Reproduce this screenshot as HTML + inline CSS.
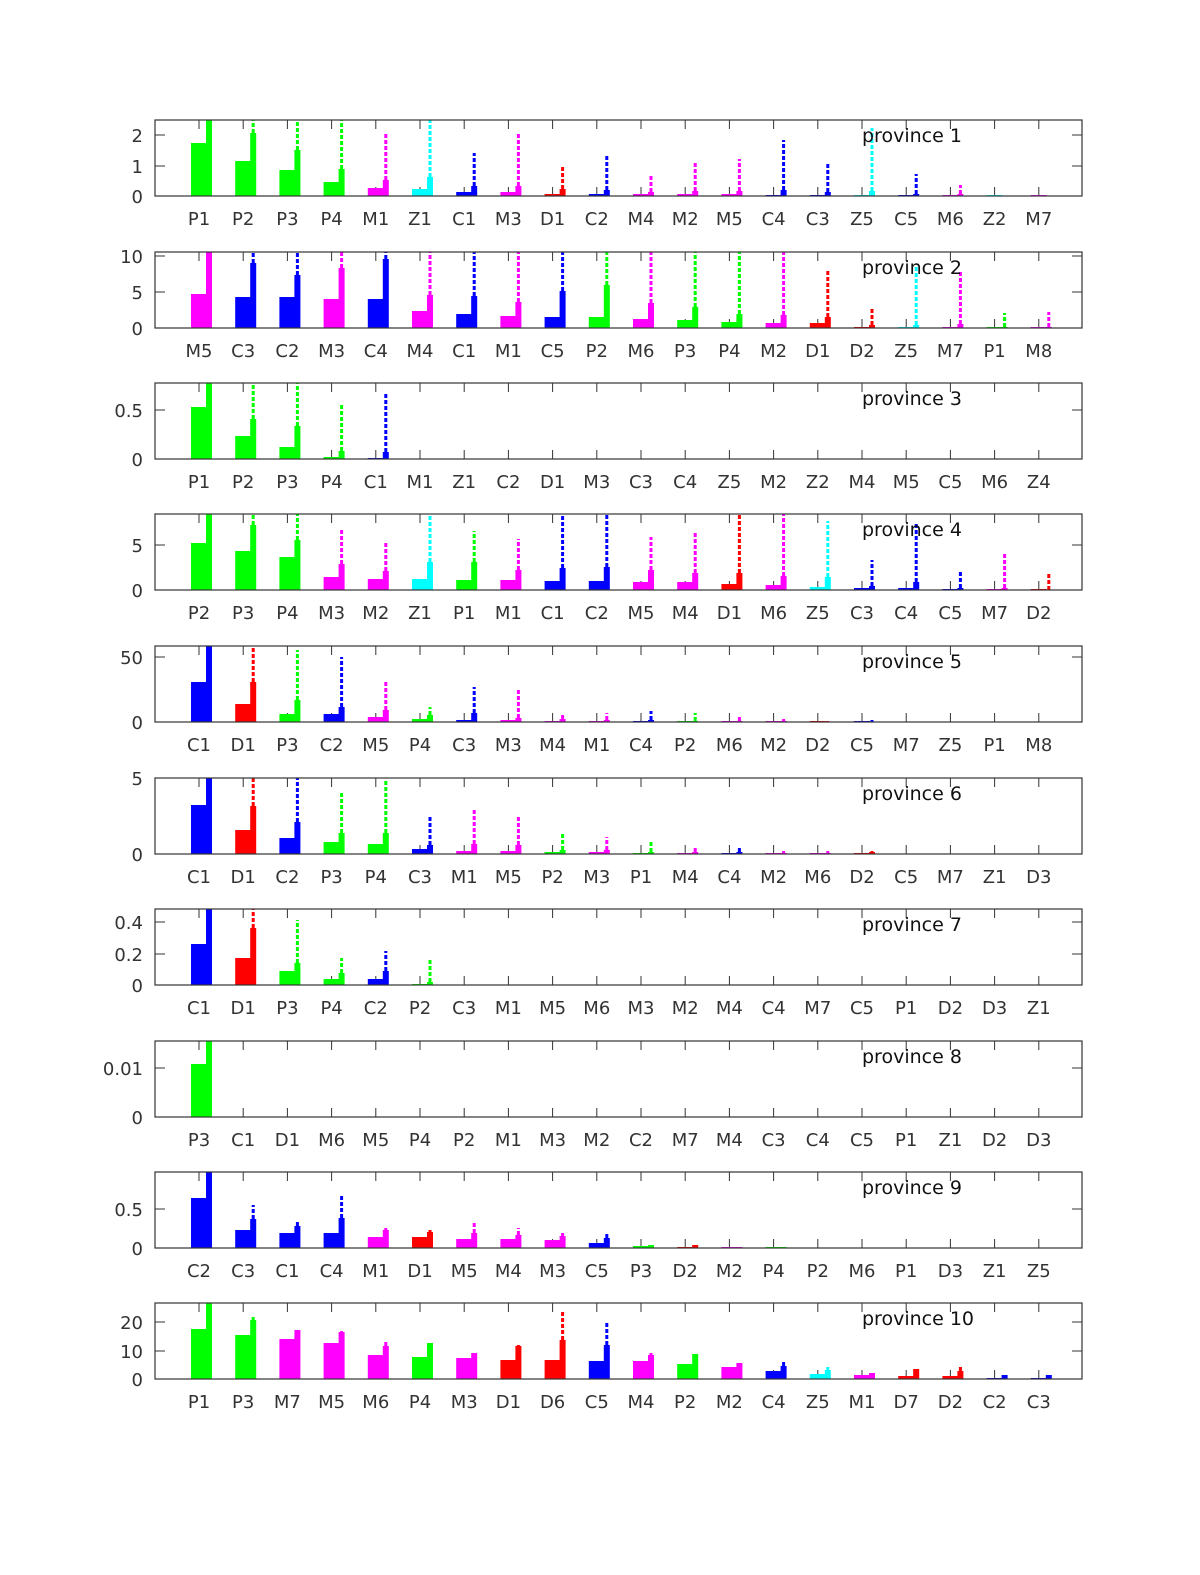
<!DOCTYPE html>
<html><head><meta charset="utf-8"><style>body{margin:0;background:#fff}svg{display:block}</style></head>
<body>
<svg id="s" width="1200" height="1575" xmlns="http://www.w3.org/2000/svg" font-family="DejaVu Sans, Liberation Sans, sans-serif"></svg>
<script>
const P=[
{b:196,t:[[0,196],[1,166],[2,135]],c:"P1 P2 P3 P4 M1 Z1 C1 M3 D1 C2 M4 M2 M5 C4 C3 Z5 C5 M6 Z2 M7",
d:[[53,76,0],[35,63,76],[26,46,76],[14,27,76],[8,16,64],[7,19,76],[4,10,43],[4,10,64],[2,7,30],[2,6,40],[2,4,22],[2,5,33],[2,5,37],[1,6,56],[1,4,32],[1,5,68],[1,2,22],[1,2,11],[0,0,0],[0,0,0]]},
{b:328,t:[[0,328],[5,292],[10,256]],c:"M5 C3 C2 M3 C4 M4 C1 M1 C5 P2 M6 P3 P4 M2 D1 D2 Z5 M7 P1 M8",
d:[[34,76,0],[31,65,76],[31,53,76],[29,60,76],[29,69,76],[17,33,76],[14,32,76],[12,26,76],[11,37,76],[11,43,76],[9,25,76],[8,21,76],[6,14,76],[5,13,76],[5,11,58],[1,3,19],[1,3,63],[1,4,58],[0,1,15],[0,1,16]]},
{b:459,t:[[0,459],[0.5,410]],c:"P1 P2 P3 P4 C1 M1 Z1 C2 D1 M3 C3 C4 Z5 M2 Z2 M4 M5 C5 M6 Z4",
d:[[52,76,0],[23,40,76],[12,33,76],[2,8,56],[1,7,67]]},
{b:590,t:[[0,590],[5,545]],c:"P2 P3 P4 M3 M2 Z1 P1 M1 C1 C2 M5 M4 D1 M6 Z5 C3 C4 C5 M7 D2",
d:[[47,76,0],[39,65,76],[33,50,76],[13,26,60],[11,19,49],[11,28,76],[10,28,59],[10,20,51],[9,22,76],[9,23,76],[8,20,53],[8,17,58],[6,17,76],[5,14,76],[3,13,69],[2,4,30],[2,8,67],[0,2,19],[0,2,36],[0,0,16]]},
{b:722,t:[[0,722],[50,657]],c:"C1 D1 P3 C2 M5 P4 C3 M3 M4 M1 C4 P2 M6 M2 D2 C5 M7 Z5 P1 M8",
d:[[40,76,0],[18,40,76],[8,22,72],[8,15,65],[5,12,41],[3,7,15],[2,9,35],[2,4,33],[1,3,8],[1,2,9],[0,2,11],[0,1,9],[0,1,6],[0,1,3],[0,0,1],[0,0,2]]},
{b:854,t:[[0,854],[5,778]],c:"C1 D1 C2 P3 P4 C3 M1 M5 P2 M3 P1 M4 C4 M2 M6 D2 C5 M7 Z1 D3",
d:[[49,76,0],[24,48,76],[16,32,76],[12,21,61],[10,21,74],[5,9,37],[3,10,45],[3,9,38],[2,4,21],[2,4,17],[1,2,13],[1,2,6],[1,2,8],[0,1,3],[0,1,3],[0,2,3]]},
{b:985,t:[[0,985],[0.2,954],[0.4,922]],c:"C1 D1 P3 P4 C2 P2 C3 M1 M5 M6 M3 M2 M4 C4 M7 C5 P1 D2 D3 Z1",
d:[[41,76,0],[27,57,76],[14,22,65],[6,12,27],[6,14,34],[1,3,27]]},
{b:1117,t:[[0,1117],[0.01,1068]],c:"P3 C1 D1 M6 M5 P4 P2 M1 M3 M2 C2 M7 M4 C3 C4 C5 P1 Z1 D2 D3",
d:[[53,76,0]]},
{b:1248,t:[[0,1248],[0.5,1209]],c:"C2 C3 C1 C4 M1 D1 M5 M4 M3 C5 P3 D2 M2 P4 P2 M6 P1 D3 Z1 Z5",
d:[[50,76,0],[18,29,43],[15,22,28],[15,30,54],[11,18,20],[11,16,18],[9,15,25],[9,13,20],[8,12,15],[5,10,15],[2,3,0],[1,3,0],[1,1,0],[0,1,0]]},
{b:1379,t:[[0,1379],[10,1351],[20,1322]],c:"P1 P3 M7 M5 M6 P4 M3 D1 D6 C5 M4 P2 M2 C4 Z5 M1 D7 D2 C2 C3",
d:[[50,76,0],[44,59,62],[40,49,0],[36,47,48],[24,33,39],[22,36,0],[21,26,0],[19,33,34],[19,39,67],[18,34,58],[18,24,26],[15,25,0],[12,16,0],[8,13,19],[5,9,12],[4,6,0],[3,10,0],[3,8,13],[1,4,0],[1,4,0]]}
];
const col={P:"#00ff00",M:"#ff00ff",C:"#0000ff",Z:"#00ffff",D:"#ff0000"};
let h="";
P.forEach((p,i)=>{
 const b=p.b,t=b-76,L=155,R=1082;
 const cats=p.c.split(" ");
 cats.forEach((c,j)=>{
  const x=199+j*44.2;
  h+=`<line x1="${x}" y1="${t}" x2="${x}" y2="${t+9}" stroke="#333" stroke-width="1"/><line x1="${x}" y1="${b}" x2="${x}" y2="${b-9}" stroke="#333" stroke-width="1"/>`;
 });
 p.t.forEach(([v,y])=>{
  h+=`<line x1="${L}" y1="${y}" x2="${L+10}" y2="${y}" stroke="#333"/><line x1="${R}" y1="${y}" x2="${R-10}" y2="${y}" stroke="#333"/>`;
  h+=`<text x="143" y="${y+7}" font-size="18" fill="#333" text-anchor="end">${v}</text>`;
 });
 p.d.forEach(([w,n,d],j)=>{
  const x=199+j*44.2,cl=col[cats[j][0]];
  if(d>n) h+=`<line x1="${x+10}" y1="${b-n}" x2="${x+10}" y2="${b-d}" stroke="${cl}" stroke-width="3" stroke-dasharray="4 2"/>`;
  if(w>0) h+=`<rect x="${x-8}" y="${b-w}" width="16" height="${w}" fill="${cl}"/>`;
  else h+=`<rect x="${x-8}" y="${b-1}" width="16" height="1" fill="${cl}"/>`;
  if(n>0) h+=`<rect x="${x+7}" y="${b-n}" width="6" height="${n}" fill="${cl}"/>`;
 });
 h+=`<rect x="${L}" y="${t}" width="${R-L}" height="76" fill="none" stroke="#333" stroke-width="1.2"/>`;
 cats.forEach((c,j)=>{h+=`<text x="${199+j*44.2}" y="${b+29}" font-size="18" fill="#333" text-anchor="middle">${c}</text>`;});
 h+=`<text x="862" y="${t+22}" font-size="19" fill="#111">province ${i+1}</text>`;
});
document.getElementById("s").innerHTML=h;
</script>
</body></html>
